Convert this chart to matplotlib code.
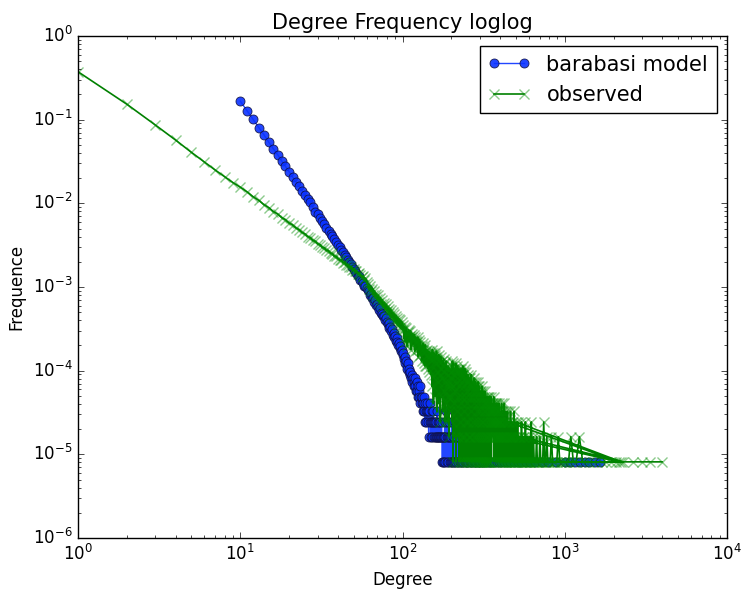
import matplotlib
matplotlib.use("Agg")
import matplotlib.pyplot as plt

# number of nodes used to turn counts into frequencies
N_NODES = 123000

# barabasi model: degrees 10..180 are all present
ba_head_start = 10
ba_head_counts = [
    20500, 15800, 12400, 9900, 8100, 6600, 5500, 4700, 3950, 3400,
    2930, 2550, 2230, 1960, 1740, 1540, 1380, 1260, 1110, 960,
    910, 830, 750, 690, 630, 580, 535, 495, 455, 420,
    395, 365, 340, 318, 297, 278, 262, 244, 231, 216, 204,
    190, 182, 168, 165, 150, 146, 139, 128, 126, 121,
    112, 110, 99, 101, 92, 90, 82, 85, 74, 77,
    70, 66, 69, 60, 58, 55, 56, 49, 52, 47,
    45, 46, 40, 41, 37, 39, 33, 35, 31, 32,
    28, 30, 27, 25, 26, 23, 24, 21, 22, 19,
    20, 17, 18, 15, 16, 14, 13, 15, 12, 13,
    11, 12, 10, 11, 9, 10, 9, 8, 10, 8,
    7, 9, 7, 8, 6, 7, 6, 8, 5, 6,
    5, 6, 4, 5, 4, 6, 3, 5, 4, 3,
    5, 4, 3, 4, 2, 4, 3, 5, 3, 2,
    4, 3, 2, 3, 4, 2, 3, 2, 3, 2,
    3, 2, 4, 2, 3, 2, 2, 3, 2, 2,
    3, 2, 2, 3, 2, 1, 2, 1, 2, 1,
]
ba_tail_deg = [
    181, 182, 183, 184, 185, 187, 188, 189, 190, 191,
    193, 194, 195, 196, 198, 199, 201, 202, 204, 205,
    207, 208, 210, 212, 213, 215, 217, 219, 220, 222,
    225, 227, 229, 232, 234, 237, 240, 242, 245, 248,
    251, 255, 258, 262, 266, 270, 275, 279, 284, 290,
    296, 301, 308, 315, 322, 330, 339, 347, 356, 368,
    380, 394, 407, 421, 440, 462, 485, 512, 540, 577,
    615, 660, 720, 790, 880, 1010, 1080, 1160, 1250, 1330,
    1420, 1530, 1640,
]
ba_tail_cnt = [
    2, 3, 1, 2, 4, 2, 1, 3, 2, 1,
    2, 3, 1, 2, 1, 2, 3, 1, 2, 1,
    2, 1, 3, 1, 2, 1, 2, 1, 1, 2,
    1, 3, 1, 2, 1, 1, 2, 1, 1, 2,
    1, 1, 2, 1, 1, 1, 1, 1, 1, 1,
    1, 1, 1, 1, 1, 1, 1, 1, 1, 1,
    1, 1, 1, 1, 1, 1, 1, 1, 1, 1,
    1, 1, 1, 1, 1, 1, 1, 1, 1, 1,
    1, 1, 1,
]

# observed network: degrees 1..400 (0 = degree not present)
obs_head_counts = [
    46000, 18800, 10600, 7000, 5000, 3850, 3080, 2560, 2180, 1920,
    1690, 1475, 1335, 1185, 1092, 982, 915, 830, 784, 716,
    680, 625, 598, 553, 531, 493, 478, 444, 432, 402,
    395, 366, 361, 336, 333, 310, 308, 286, 285, 268,
    258, 260, 240, 242, 224, 227, 211, 214, 198, 202,
    189, 191, 176, 181, 169, 163, 167, 151, 156, 142,
    133, 116, 126, 109, 117, 100, 110, 94, 102, 88,
    98, 82, 92, 77, 86, 72, 80, 67, 76, 64,
    72, 60, 68, 56, 65, 53, 61, 50, 58, 47,
    56, 45, 53, 43, 51, 41, 49, 39, 47, 38,
    43, 30, 41, 27, 40, 32, 24, 36, 38, 27,
    32, 37, 22, 31, 34, 25, 29, 33, 21, 31,
    28, 22, 27, 31, 18, 24, 29, 19, 27, 22,
    16, 24, 22, 26, 15, 23, 14, 25, 21, 14,
    22, 19, 13, 18, 21, 12, 17, 20, 11, 19,
    20, 8, 22, 17, 5, 20, 11, 19, 6, 18,
    15, 21, 4, 17, 9, 12, 19, 5, 16, 11,
    3, 18, 13, 6, 16, 10, 4, 14, 17, 7,
    12, 3, 15, 9, 5, 16, 8, 13, 3, 11,
    14, 6, 9, 2, 13, 8, 4, 12, 6, 10,
    14, 3, 16, 8, 1, 15, 11, 5, 13, 2,
    12, 7, 15, 1, 13, 9, 4, 14, 2, 12,
    6, 13, 1, 8, 11, 3, 12, 5, 1, 13,
    9, 2, 10, 6, 14, 1, 11, 4, 12, 2,
    8, 13, 1, 10, 6, 3, 12, 1, 9, 5,
    7, 1, 11, 3, 9, 2, 8, 10, 1, 6,
    10, 2, 8, 1, 11, 4, 6, 1, 7, 9,
    3, 8, 1, 9, 5, 2, 10, 1, 6, 7,
    1, 9, 3, 8, 2, 7, 1, 6, 4, 8,
    1, 5, 9, 2, 4, 1, 8, 3, 6, 1,
    7, 2, 5, 4, 1, 7, 3, 1, 8, 2,
    6, 1, 3, 7, 1, 5, 4, 2, 6, 1,
    5, 7, 1, 4, 2, 1, 5, 3, 1, 6,
    2, 5, 1, 4, 6, 1, 3, 2, 4, 1,
    5, 1, 6, 2, 1,
    4, 3, 5, 2, 4, 6, 3, 1, 4, 5,
    2, 3, 4, 0, 5, 3, 2, 4, 3, 6,
    1, 4, 3, 2, 5, 3, 4, 0, 2, 4,
    3, 5, 1, 3, 4, 2, 3, 5, 2, 1,
    4, 3, 0, 2, 4, 3, 1, 5, 2, 3,
    4, 1, 3, 2, 3,
]
# sparse tail, in the order the points were stored (not fully sorted)
obs_tail_deg = [
    401, 403, 404, 406, 408, 409, 411, 413, 415, 416,
    418, 420, 422, 424, 425, 427, 430, 432, 433, 436,
    438, 440, 441, 444, 446, 448, 2150, 451, 453, 455, 458,
    460, 463, 465, 467, 470, 473, 475, 478, 480, 483,
    486, 488, 491, 494, 497, 500, 2230, 503, 506, 509, 512,
    516, 519, 522, 526, 2286, 529,
    533, 538, 541, 546, 550, 555, 558, 563, 568, 572,
    577, 583, 588, 592, 598, 604, 610, 615, 622, 628,
    635, 641, 648, 655, 663, 670, 678, 686, 695, 703,
    712, 721, 731, 742, 752, 763, 775, 787, 800, 813,
    827, 842, 858, 875, 893, 912, 932, 953, 975, 998,
    1020, 1055, 1090, 1130, 1175, 1230, 1290, 1350, 1420, 1500,
    1590, 1690, 1800, 1920, 2060, 2640, 2993, 3352, 3980,
]
obs_tail_cnt = [
    3, 1, 4, 2, 5, 1, 3, 2, 4, 1,
    2, 3, 1, 5, 2, 1, 3, 4, 1, 2,
    3, 1, 2, 4, 1, 3, 1, 2, 1, 3, 2,
    1, 4, 1, 2, 3, 1, 2, 1, 3, 2,
    1, 4, 1, 2, 1, 3, 1, 1, 2, 1, 3,
    1, 2, 1, 2, 1, 1,
    2, 1, 3, 1, 2, 1, 1, 2, 1, 3,
    1, 1, 2, 1, 1, 2, 1, 1, 3, 1,
    1, 2, 1, 1, 1, 2, 1, 1, 1, 2,
    1, 1, 1, 3, 1, 1, 2, 1, 1, 1,
    2, 1, 1, 1, 1, 2, 1, 1, 1, 1,
    1, 1, 2, 1, 1, 2, 1, 1, 1, 1,
    1, 1, 1, 1, 1, 1, 1, 1, 1,
]

ba_x, ba_y = [], []
for i, c in enumerate(ba_head_counts):
    ba_x.append(ba_head_start + i)
    ba_y.append(c / N_NODES)
for d, c in zip(ba_tail_deg, ba_tail_cnt):
    ba_x.append(d)
    ba_y.append(c / N_NODES)

obs_x, obs_y = [], []
for i, c in enumerate(obs_head_counts):
    if c > 0:
        obs_x.append(i + 1)
        obs_y.append(c / N_NODES)
for d, c in zip(obs_tail_deg, obs_tail_cnt):
    obs_x.append(d)
    obs_y.append(c / N_NODES)

plt.style.use('classic')
plt.rcParams['axes.unicode_minus'] = False
fig = plt.figure(figsize=(7.41, 5.92), dpi=100, facecolor='white')
ax = fig.add_axes([0.1053, 0.0912, 0.8758, 0.848])

ax.loglog(ba_x, ba_y, 'o-', color='#0a32ff', alpha=0.9, markersize=6.5,
          markeredgecolor='#101040', markeredgewidth=0.6, linewidth=1.0,
          label='barabasi model')
ax.loglog(obs_x, obs_y, 'x-', color=(0, 0.5, 0), linewidth=1.2,
          markersize=7, markeredgewidth=1.0,
          markeredgecolor=(0.0, 0.55, 0.0, 0.45), label='observed')

ax.set_xlim(1, 1e4)
ax.set_ylim(1e-6, 1)
ax.set_title('Degree Frequency loglog', fontsize=15)
ax.set_xlabel('Degree', fontsize=12)
ax.set_ylabel('Frequence', fontsize=12)
ax.legend(loc='upper right', fontsize=15, numpoints=2, fancybox=False,
          borderaxespad=0.5)

fig.savefig('out.png', dpi=100, facecolor='white')
